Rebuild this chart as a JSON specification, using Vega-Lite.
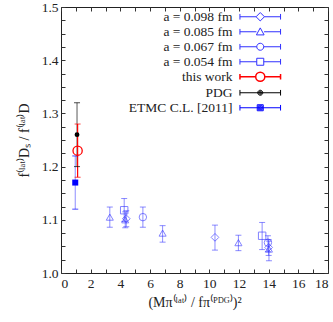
{
  "$schema": "https://vega.github.io/schema/vega-lite/v6.json",
  "width": 267,
  "height": 266,
  "autosize": {"type": "none"},
  "padding": {"left": 61, "top": 7, "right": 5, "bottom": 49},
  "config": {
    "font": "Liberation Serif",
    "view": {"stroke": "#222222", "strokeWidth": 1},
    "axis": {"grid": false, "domain": false, "tickColor": "#333333", "tickSize": -4, "labelColor": "#222222", "labelFontSize": 13.5, "labelFont": "Liberation Serif", "titleFont": "Liberation Serif", "titleFontWeight": "normal", "titleColor": "#222222", "titleFontSize": 14}
  },
  "data": {"values": [
    {"series": "a = 0.098 fm", "x": 4.4, "y": 1.102, "lo": 1.087, "hi": 1.117},
    {"series": "a = 0.098 fm", "x": 10.38, "y": 1.067, "lo": 1.043, "hi": 1.09},
    {"series": "a = 0.098 fm", "x": 14.0, "y": 1.048, "lo": 1.033, "hi": 1.063},
    {"series": "a = 0.085 fm", "x": 3.29, "y": 1.105, "lo": 1.086, "hi": 1.124},
    {"series": "a = 0.085 fm", "x": 4.33, "y": 1.1, "lo": 1.085, "hi": 1.115},
    {"series": "a = 0.085 fm", "x": 6.85, "y": 1.075, "lo": 1.058, "hi": 1.089},
    {"series": "a = 0.085 fm", "x": 11.96, "y": 1.057, "lo": 1.042, "hi": 1.071},
    {"series": "a = 0.085 fm", "x": 14.02, "y": 1.045, "lo": 1.023, "hi": 1.06},
    {"series": "a = 0.067 fm", "x": 5.52, "y": 1.105, "lo": 1.086, "hi": 1.124},
    {"series": "a = 0.067 fm", "x": 13.95, "y": 1.057, "lo": 1.04, "hi": 1.07},
    {"series": "a = 0.054 fm", "x": 4.26, "y": 1.118, "lo": 1.097, "hi": 1.14},
    {"series": "a = 0.054 fm", "x": 13.56, "y": 1.07, "lo": 1.044, "hi": 1.095},
    {"series": "this work", "x": 1.12, "y": 1.23, "lo": 1.18, "hi": 1.28},
    {"series": "PDG", "x": 1.08, "y": 1.26, "lo": 1.2, "hi": 1.32},
    {"series": "ETMC C.L. [2011]", "x": 0.96, "y": 1.17, "lo": 1.12, "hi": 1.22}
  ]},
  "resolve": {"axis": {"x": "independent", "y": "independent"}},
  "encoding": {
    "color": {"field": "series", "type": "nominal",
      "scale": {"domain": ["a = 0.098 fm", "a = 0.085 fm", "a = 0.067 fm", "a = 0.054 fm", "this work", "PDG", "ETMC C.L. [2011]"],
                "range": ["#3030ff", "#3030ff", "#3030ff", "#3030ff", "#ff0000", "#000000", "#0000ff"]},
      "legend": {
        "title": null, "orient": "none", "legendX": 192.5, "legendY": 3,
        "labelFont": "Liberation Serif", "labelFontSize": 13.5, "labelColor": "#222222",
        "labelAlign": "right", "labelOffset": -34.5,
        "symbolSize": 49, "symbolStrokeWidth": 1, "rowPadding": 0,
        "encode": {"symbols": {
          "update": {
          "shape": {"signal": "datum.value === 'a = 0.098 fm' ? 'M-5.8,0H-1.2M1.2,0H5.8M-5.8,-0.8V0.8M5.8,-0.8V0.8M0,-1.2L1.2,0L0,1.2L-1.2,0Z' : datum.value === 'a = 0.085 fm' ? 'M-5.8,0H-1.1M1.1,0H5.8M-5.8,-0.8V0.8M5.8,-0.8V0.8M0,-1.1L1.1,0.9L-1.1,0.9Z' : datum.value === 'a = 0.067 fm' ? 'M-5.8,0H-1M1,0H5.8M-5.8,-0.8V0.8M5.8,-0.8V0.8M1,0A1,1,0,1,1,-1,0A1,1,0,1,1,1,0Z' : datum.value === 'a = 0.054 fm' ? 'M-5.8,0H-1M1,0H5.8M-5.8,-0.8V0.8M5.8,-0.8V0.8M-1,-1H1V1H-1Z' : datum.value === 'this work' ? 'M-5.8,0H-1.3M1.3,0H5.8M-5.8,-0.8V0.8M5.8,-0.8V0.8M1.3,0A1.3,1.3,0,1,1,-1.3,0A1.3,1.3,0,1,1,1.3,0Z' : datum.value === 'PDG' ? 'M-5.8,0H5.8M-5.8,-0.8V0.8M5.8,-0.8V0.8M0.72,0A0.72,0.72,0,1,1,-0.72,0A0.72,0.72,0,1,1,0.72,0ZM0.45,0A0.45,0.45,0,1,1,-0.45,0A0.45,0.45,0,1,1,0.45,0ZM0.18,0A0.18,0.18,0,1,1,-0.18,0A0.18,0.18,0,1,1,0.18,0Z' : 'M-5.8,0H5.8M-5.8,-0.8V0.8M5.8,-0.8V0.8M-0.86,-0.86H0.86V0.86H-0.86ZM-0.57,-0.57H0.57V0.57H-0.57ZM-0.29,-0.29H0.29V0.29H-0.29Z'"},
          "fill": {"value": "transparent"},
          "strokeWidth": {"signal": "datum.value === 'this work' ? 1.5 : 1"}
          }
        }}
      }
    }
  },
  "layer": [
    {
      "transform": [{"filter": "datum.series !== 'PDG' && datum.series !== 'ETMC C.L. [2011]' && datum.series !== 'this work'"}],
      "mark": {"type": "errorbar", "opacity": 0.55, "rule": {"strokeWidth": 1}},
      "encoding": {
        "x": {"field": "x", "type": "quantitative", "scale": {"domain": [0, 18], "nice": false, "zero": false},
          "axis": {"orient": "bottom", "values": [0,1,2,3,4,5,6,7,8,9,10,11,12,13,14,15,16,17,18], "labelExpr": "datum.value % 2 === 0 ? datum.value : ''", "labelPadding": 7, "title": "(Mπ⁽ˡᵃᵗ⁾ / fπ⁽ᴾᴰᴳ⁾)²", "titlePadding": 6}},
        "y": {"field": "lo", "type": "quantitative", "scale": {"domain": [1.0, 1.5], "nice": false, "zero": false},
          "axis": {"orient": "left", "values": [1.0,1.025,1.05,1.075,1.1,1.125,1.15,1.175,1.2,1.225,1.25,1.275,1.3,1.325,1.35,1.375,1.4,1.425,1.45,1.475,1.5], "labelExpr": "abs(datum.value*10 - round(datum.value*10)) < 0.001 ? format(datum.value, '.1f') : ''", "labelPadding": 7, "title": "f⁽ˡᵃᵗ⁾Dₛ / f⁽ˡᵃᵗ⁾D", "titlePadding": 10}},
        "y2": {"field": "hi"}
      }
    },
    {
      "transform": [{"filter": "datum.series !== 'PDG' && datum.series !== 'ETMC C.L. [2011]' && datum.series !== 'this work'"}],
      "mark": {"type": "point", "shape": "M-1,0H1", "size": 36, "filled": false, "strokeWidth": 1, "opacity": 0.55},
      "encoding": {
        "x": {"field": "x", "type": "quantitative", "axis": null},
        "y": {"field": "lo", "type": "quantitative", "axis": null}
      }
    },
    {
      "transform": [{"filter": "datum.series !== 'PDG' && datum.series !== 'ETMC C.L. [2011]' && datum.series !== 'this work'"}],
      "mark": {"type": "point", "shape": "M-1,0H1", "size": 36, "filled": false, "strokeWidth": 1, "opacity": 0.55},
      "encoding": {
        "x": {"field": "x", "type": "quantitative", "axis": null},
        "y": {"field": "hi", "type": "quantitative", "axis": null}
      }
    },
    {
      "transform": [{"filter": "datum.series === 'ETMC C.L. [2011]'"}],
      "mark": {"type": "errorbar", "opacity": 0.45, "rule": {"strokeWidth": 1}},
      "encoding": {
        "x": {"field": "x", "type": "quantitative", "axis": null},
        "y": {"field": "lo", "type": "quantitative", "axis": null},
        "y2": {"field": "hi"}
      }
    },
    {
      "transform": [{"filter": "datum.series === 'PDG'"}],
      "mark": {"type": "errorbar", "opacity": 0.65, "rule": {"strokeWidth": 1}},
      "encoding": {
        "x": {"field": "x", "type": "quantitative", "axis": null},
        "y": {"field": "lo", "type": "quantitative", "axis": null},
        "y2": {"field": "hi"}
      }
    },
    {
      "transform": [{"filter": "datum.series === 'this work'"}],
      "mark": {"type": "errorbar", "rule": {"strokeWidth": 1.2}},
      "encoding": {
        "x": {"field": "x", "type": "quantitative", "axis": null},
        "y": {"field": "lo", "type": "quantitative", "axis": null},
        "y2": {"field": "hi"}
      }
    },
    {
      "transform": [{"filter": "datum.series === 'PDG' || datum.series === 'ETMC C.L. [2011]' || datum.series === 'this work'"}],
      "mark": {"type": "point", "shape": "M-1,0H1", "size": 36, "filled": false, "strokeWidth": 1, "opacity": 0.7},
      "encoding": {
        "x": {"field": "x", "type": "quantitative", "axis": null},
        "y": {"field": "lo", "type": "quantitative", "axis": null}
      }
    },
    {
      "transform": [{"filter": "datum.series === 'PDG' || datum.series === 'ETMC C.L. [2011]' || datum.series === 'this work'"}],
      "mark": {"type": "point", "shape": "M-1,0H1", "size": 36, "filled": false, "strokeWidth": 1, "opacity": 0.7},
      "encoding": {
        "x": {"field": "x", "type": "quantitative", "axis": null},
        "y": {"field": "hi", "type": "quantitative", "axis": null}
      }
    },
    {
      "transform": [{"filter": "datum.series === 'a = 0.098 fm'"}],
      "mark": {"type": "point", "shape": "diamond", "size": 60, "filled": false, "strokeWidth": 1, "opacity": 0.6},
      "encoding": {
        "x": {"field": "x", "type": "quantitative", "axis": {"orient": "top", "values": [0,1,2,3,4,5,6,7,8,9,10,11,12,13,14,15,16,17,18], "labels": false, "title": null}},
        "y": {"field": "y", "type": "quantitative", "axis": {"orient": "right", "values": [1.0,1.025,1.05,1.075,1.1,1.125,1.15,1.175,1.2,1.225,1.25,1.275,1.3,1.325,1.35,1.375,1.4,1.425,1.45,1.475,1.5], "labels": false, "title": null}}
      }
    },
    {
      "transform": [{"filter": "datum.series === 'a = 0.085 fm'"}],
      "mark": {"type": "point", "shape": "triangle-up", "size": 50, "filled": false, "strokeWidth": 1, "opacity": 0.6},
      "encoding": {
        "x": {"field": "x", "type": "quantitative", "axis": null},
        "y": {"field": "y", "type": "quantitative", "axis": null}
      }
    },
    {
      "transform": [{"filter": "datum.series === 'a = 0.067 fm'"}],
      "mark": {"type": "point", "shape": "circle", "size": 55, "filled": false, "strokeWidth": 1, "opacity": 0.6},
      "encoding": {
        "x": {"field": "x", "type": "quantitative", "axis": null},
        "y": {"field": "y", "type": "quantitative", "axis": null}
      }
    },
    {
      "transform": [{"filter": "datum.series === 'a = 0.054 fm'"}],
      "mark": {"type": "point", "shape": "square", "size": 55, "filled": false, "strokeWidth": 1, "opacity": 0.6},
      "encoding": {
        "x": {"field": "x", "type": "quantitative", "axis": null},
        "y": {"field": "y", "type": "quantitative", "axis": null}
      }
    },
    {
      "transform": [{"filter": "datum.series === 'this work'"}],
      "mark": {"type": "point", "shape": "circle", "size": 85, "filled": false, "strokeWidth": 1.3, "opacity": 1},
      "encoding": {
        "x": {"field": "x", "type": "quantitative", "axis": null},
        "y": {"field": "y", "type": "quantitative", "axis": null}
      }
    },
    {
      "transform": [{"filter": "datum.series === 'PDG'"}],
      "mark": {"type": "point", "shape": "circle", "size": 5, "filled": false, "strokeWidth": 2.6, "opacity": 1},
      "encoding": {
        "x": {"field": "x", "type": "quantitative", "axis": null},
        "y": {"field": "y", "type": "quantitative", "axis": null}
      }
    },
    {
      "transform": [{"filter": "datum.series === 'ETMC C.L. [2011]'"}],
      "mark": {"type": "point", "shape": "square", "size": 9, "filled": false, "strokeWidth": 3, "opacity": 1},
      "encoding": {
        "x": {"field": "x", "type": "quantitative", "axis": null},
        "y": {"field": "y", "type": "quantitative", "axis": null}
      }
    }
  ]
}
